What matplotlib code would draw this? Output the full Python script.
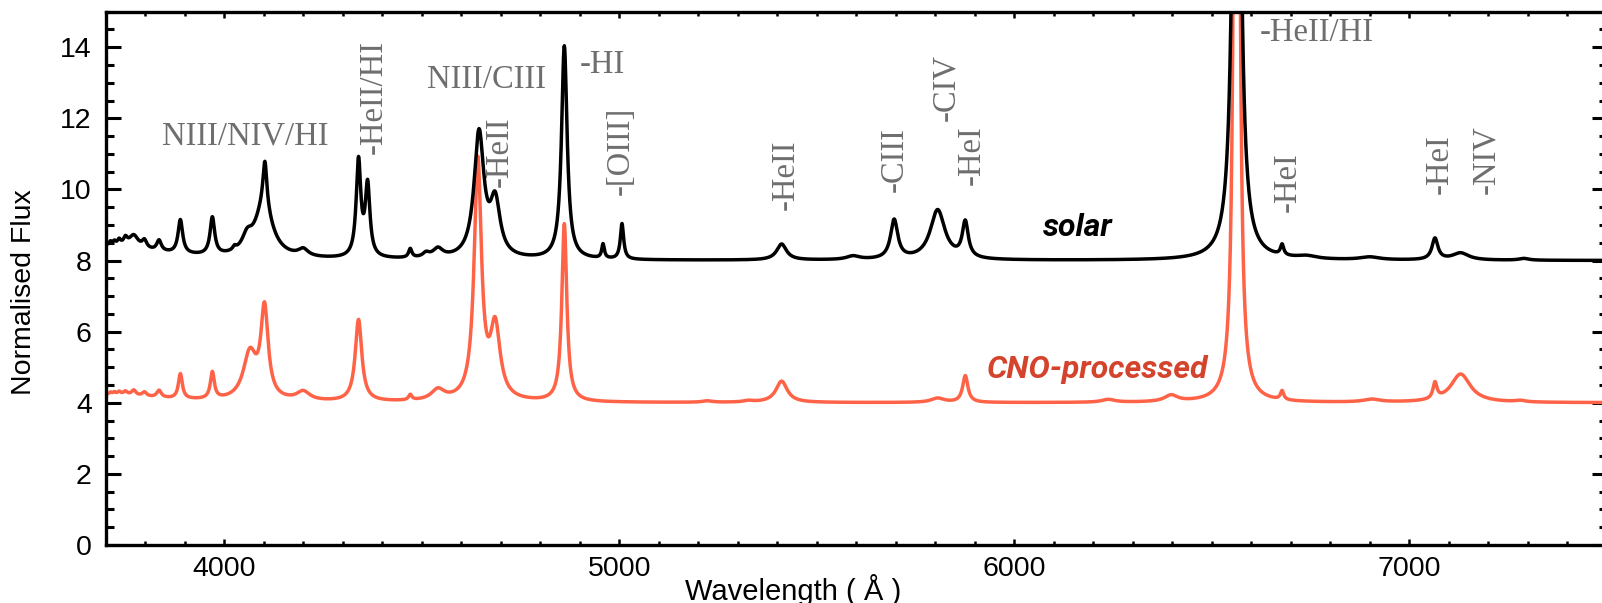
import numpy as np
import matplotlib
matplotlib.use("Agg")
import matplotlib.pyplot as plt
from matplotlib.ticker import MultipleLocator

# line lists: centre (A), peak above continuum, FWHM (A)
solar_centres = [3700, 3712, 3722, 3734, 3750, 3771, 3798, 3835, 3889, 3970, 4026, 4058,
                 4103, 4100, 4200, 4340, 4363, 4471, 4511, 4541, 4645, 4686, 4861, 4959,
                 5007, 5411, 5592, 5696, 5806, 5876, 6563, 6678, 6740, 6900, 7065, 7130, 7290]
solar_peaks = [0.40, 0.10, 0.10, 0.15, 0.20, 0.35, 0.22, 0.30, 0.95, 1.05, 0.10, 0.40,
               1.30, 1.40, 0.20, 2.70, 2.00, 0.25, 0.12, 0.25, 3.50, 1.50, 6.00, 0.40,
               1.00, 0.45, 0.10, 1.10, 1.40, 1.00, 25.0, 0.30, 0.08, 0.08, 0.60, 0.20, 0.05]
solar_fwhm = [300, 8, 8, 10, 12, 28, 14, 14, 14, 14, 10, 30,
              12, 55, 30, 14, 14, 10, 20, 30, 30, 30, 17, 8,
              10, 30, 40, 22, 45, 18, 18, 10, 60, 60, 18, 50, 30]

cno_centres = [3700, 3712, 3722, 3734, 3750, 3771, 3798, 3835, 3889, 3970, 4065, 4102,
               4200, 4340, 4471, 4541, 4642, 4686, 4861, 5223, 5327, 5411, 5806, 5876,
               6238, 6397, 6563, 6678, 6905, 7065, 7130, 7281]
cno_peaks = [0.22, 0.06, 0.06, 0.08, 0.10, 0.15, 0.12, 0.20, 0.70, 0.75, 1.30, 2.50,
             0.25, 2.30, 0.15, 0.30, 6.70, 2.00, 5.00, 0.04, 0.04, 0.60, 0.12, 0.75,
             0.08, 0.18, 60.0, 0.25, 0.08, 0.45, 0.80, 0.04]
cno_fwhm = [300, 8, 8, 10, 12, 14, 14, 14, 12, 12, 40, 22,
            40, 20, 10, 40, 22, 30, 15, 30, 30, 35, 40, 16,
            40, 40, 9, 10, 50, 12, 60, 30]

solar_cont = 8.0
cno_cont = 4.0

# ion labels: text, wavelength, flux, rotation
labels = ["NIII/NIV/HI", "-HeII/HI", "NIII/CIII", "-HeII", "-HI", "-[OIII]", "-HeII",
          "-CIII", "-CIV", "-HeI", "-HeII/HI", "-HeI", "-HeI", "-NIV"]
label_wave = [4053, 4378, 4663, 4698, 4901, 5002, 5421, 5697, 5827, 5891, 6622, 6691, 7077, 7195]
label_flux = [11.5, 11.0, 13.1, 10.07, 13.5, 9.84, 9.42, 9.92, 11.92, 10.12, 14.4, 9.36, 9.87, 9.87]
label_rot = [0, 90, 0, 90, 0, 90, 90, 90, 90, 90, 0, 90, 90, 90]


def spectrum(wave, cont, centres, peaks, fwhm):
    flux = np.full_like(wave, cont)
    for c, a, w in zip(centres, peaks, fwhm):
        flux += a / (1.0 + (2.0 * (wave - c) / w) ** 2)
    return flux


wave = np.arange(3700, 7501, 1.0)
solar = spectrum(wave, solar_cont, solar_centres, solar_peaks, solar_fwhm)
cno = spectrum(wave, cno_cont, cno_centres, cno_peaks, cno_fwhm)

plt.rcParams['font.family'] = ['Liberation Sans', 'DejaVu Sans']

W, H = 1602, 603
fig = plt.figure(figsize=(W / 100, H / 100), dpi=100)
ax = fig.add_axes([105.7 / W, 1 - 545 / H, (1606.8 - 105.7) / W, (545 - 11.7) / H])

ax.plot(wave, solar, color='black', lw=2.5, zorder=3)
ax.plot(wave, cno, color='#ff6347', lw=2.5, zorder=2)

ax.set_xlim(3700, 7500)
ax.set_ylim(0, 15)
ax.xaxis.set_major_locator(MultipleLocator(1000))
ax.xaxis.set_minor_locator(MultipleLocator(100))
ax.yaxis.set_major_locator(MultipleLocator(2))
ax.yaxis.set_minor_locator(MultipleLocator(0.5))
ax.tick_params(axis='x', which='both', direction='in', top=True, labelsize=20.5, pad=8)
ax.tick_params(axis='x', which='major', length=4.5, width=1.8)
ax.tick_params(axis='x', which='minor', length=2.8, width=1.8)
ax.tick_params(axis='y', which='both', direction='in', right=True, labelsize=20.5, pad=10)
ax.tick_params(axis='y', which='major', length=10.8, width=2.2)
ax.tick_params(axis='y', which='minor', length=5.8, width=2.2)
for s in ax.spines.values():
    s.set_linewidth(2.4)

fig.text(793 / W, 1 - 590 / H, "Wavelength ( Å )", fontsize=21, ha='center', va='center')
fig.text(24 / W, 1 - 292 / H, "Normalised Flux", fontsize=20.5, rotation=90,
         ha='center', va='center')

for t, x, y, r in zip(labels, label_wave, label_flux, label_rot):
    if r == 0:
        ha = 'center' if t == "NIII/NIV/HI" or t == "NIII/CIII" else 'left'
        ax.text(x, y, t, rotation=0, ha=ha, va='center', color='#6e6e6e',
                fontsize=23.5, family=['Liberation Serif', 'DejaVu Serif'])
    else:
        ax.text(x, y, t, rotation=90, ha='center', va='bottom', color='#6e6e6e',
                fontsize=23.5, family=['Liberation Serif', 'DejaVu Serif'])

ax.text(6073, 8.94, "solar", color='black', fontsize=23, fontweight='bold',
        fontstyle='italic', family=['Roboto', 'DejaVu Sans'], va='center')
ax.text(5931, 4.95, "CNO-processed", color='#d4432b', fontsize=23, fontweight='bold',
        fontstyle='italic', family=['Roboto', 'DejaVu Sans'], va='center')

fig.savefig("out.png", dpi=100)
